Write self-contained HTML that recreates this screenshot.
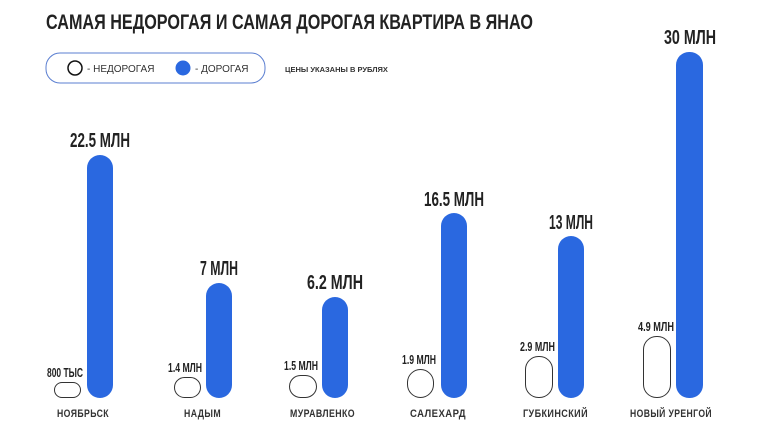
<!DOCTYPE html>
<html><head><meta charset="utf-8"><style>
body{margin:0;background:#fff;}
svg{display:block;font-family:"Liberation Sans","DejaVu Sans",sans-serif;}
.v{font-weight:bold;fill:#222;}
.c{font-weight:bold;fill:#333;font-size:11px;letter-spacing:0.5px;}
</style></head><body>
<svg width="760" height="427" viewBox="0 0 760 427" xmlns="http://www.w3.org/2000/svg">
<rect width="760" height="427" fill="#fff"/>
<text x="46" y="29" font-size="21" font-weight="bold" fill="#222" textLength="487" lengthAdjust="spacingAndGlyphs">САМАЯ НЕДОРОГАЯ И САМАЯ ДОРОГАЯ КВАРТИРА В ЯНАО</text>
<rect x="46" y="53" width="219" height="30" rx="14" fill="#fff" stroke="#5b7fd1" stroke-width="1"/>
<circle cx="75" cy="68" r="7" fill="#fff" stroke="#111" stroke-width="1.5"/>
<text x="87" y="72" font-size="10" fill="#333">- НЕДОРОГАЯ</text>
<circle cx="183" cy="68" r="7.5" fill="#2a68e0"/>
<text x="195" y="72" font-size="10" fill="#333">- ДОРОГАЯ</text>
<text x="285" y="72" font-size="7.5" font-weight="bold" fill="#333">ЦЕНЫ УКАЗАНЫ В РУБЛЯХ</text>
<g fill="#2a68e0">
<rect x="87" y="155" width="26" height="243" rx="13"/>
<rect x="206" y="283" width="26" height="115" rx="13"/>
<rect x="322" y="297" width="26" height="101" rx="13"/>
<rect x="441" y="213" width="26" height="185" rx="13"/>
<rect x="558" y="236" width="26" height="162" rx="13"/>
<rect x="676" y="52" width="27" height="346" rx="13"/>
</g>
<g fill="#fff" stroke="#333" stroke-width="1">
<rect x="54.5" y="382.5" width="26" height="15" rx="7.5"/>
<rect x="174.5" y="377.5" width="26" height="20" rx="10"/>
<rect x="289.5" y="375.5" width="27" height="22" rx="11"/>
<rect x="407.5" y="369.5" width="26" height="28" rx="13"/>
<rect x="525.5" y="356.5" width="27" height="41" rx="13"/>
<rect x="643.5" y="336.5" width="27" height="61" rx="13"/>
</g>
<g class="v">
<text x="70" y="147" font-size="20" textLength="60" lengthAdjust="spacingAndGlyphs">22.5 МЛН</text>
<text x="200" y="275" font-size="20" textLength="38" lengthAdjust="spacingAndGlyphs">7 МЛН</text>
<text x="307" y="289" font-size="20" textLength="56" lengthAdjust="spacingAndGlyphs">6.2 МЛН</text>
<text x="424" y="206" font-size="20" textLength="60" lengthAdjust="spacingAndGlyphs">16.5 МЛН</text>
<text x="549" y="229" font-size="20" textLength="44" lengthAdjust="spacingAndGlyphs">13 МЛН</text>
<text x="664" y="44" font-size="20" textLength="52" lengthAdjust="spacingAndGlyphs">30 МЛН</text>
<text x="47" y="377" font-size="13" textLength="36" lengthAdjust="spacingAndGlyphs">800 ТЫС</text>
<text x="168" y="372" font-size="13" textLength="34" lengthAdjust="spacingAndGlyphs">1.4 МЛН</text>
<text x="284" y="370" font-size="13" textLength="34" lengthAdjust="spacingAndGlyphs">1.5 МЛН</text>
<text x="402" y="364" font-size="13" textLength="34" lengthAdjust="spacingAndGlyphs">1.9 МЛН</text>
<text x="520" y="351" font-size="13" textLength="35" lengthAdjust="spacingAndGlyphs">2.9 МЛН</text>
<text x="638" y="331" font-size="13" textLength="36" lengthAdjust="spacingAndGlyphs">4.9 МЛН</text>
</g>
<g class="c">
<text x="57" y="417" textLength="52" lengthAdjust="spacingAndGlyphs">НОЯБРЬСК</text>
<text x="184" y="417" textLength="37" lengthAdjust="spacingAndGlyphs">НАДЫМ</text>
<text x="290" y="417" textLength="65" lengthAdjust="spacingAndGlyphs">МУРАВЛЕНКО</text>
<text x="410" y="417" textLength="56" lengthAdjust="spacingAndGlyphs">САЛЕХАРД</text>
<text x="523" y="417" textLength="65" lengthAdjust="spacingAndGlyphs">ГУБКИНСКИЙ</text>
<text x="630" y="417" textLength="82" lengthAdjust="spacingAndGlyphs">НОВЫЙ УРЕНГОЙ</text>
</g>
</svg>
</body></html>
